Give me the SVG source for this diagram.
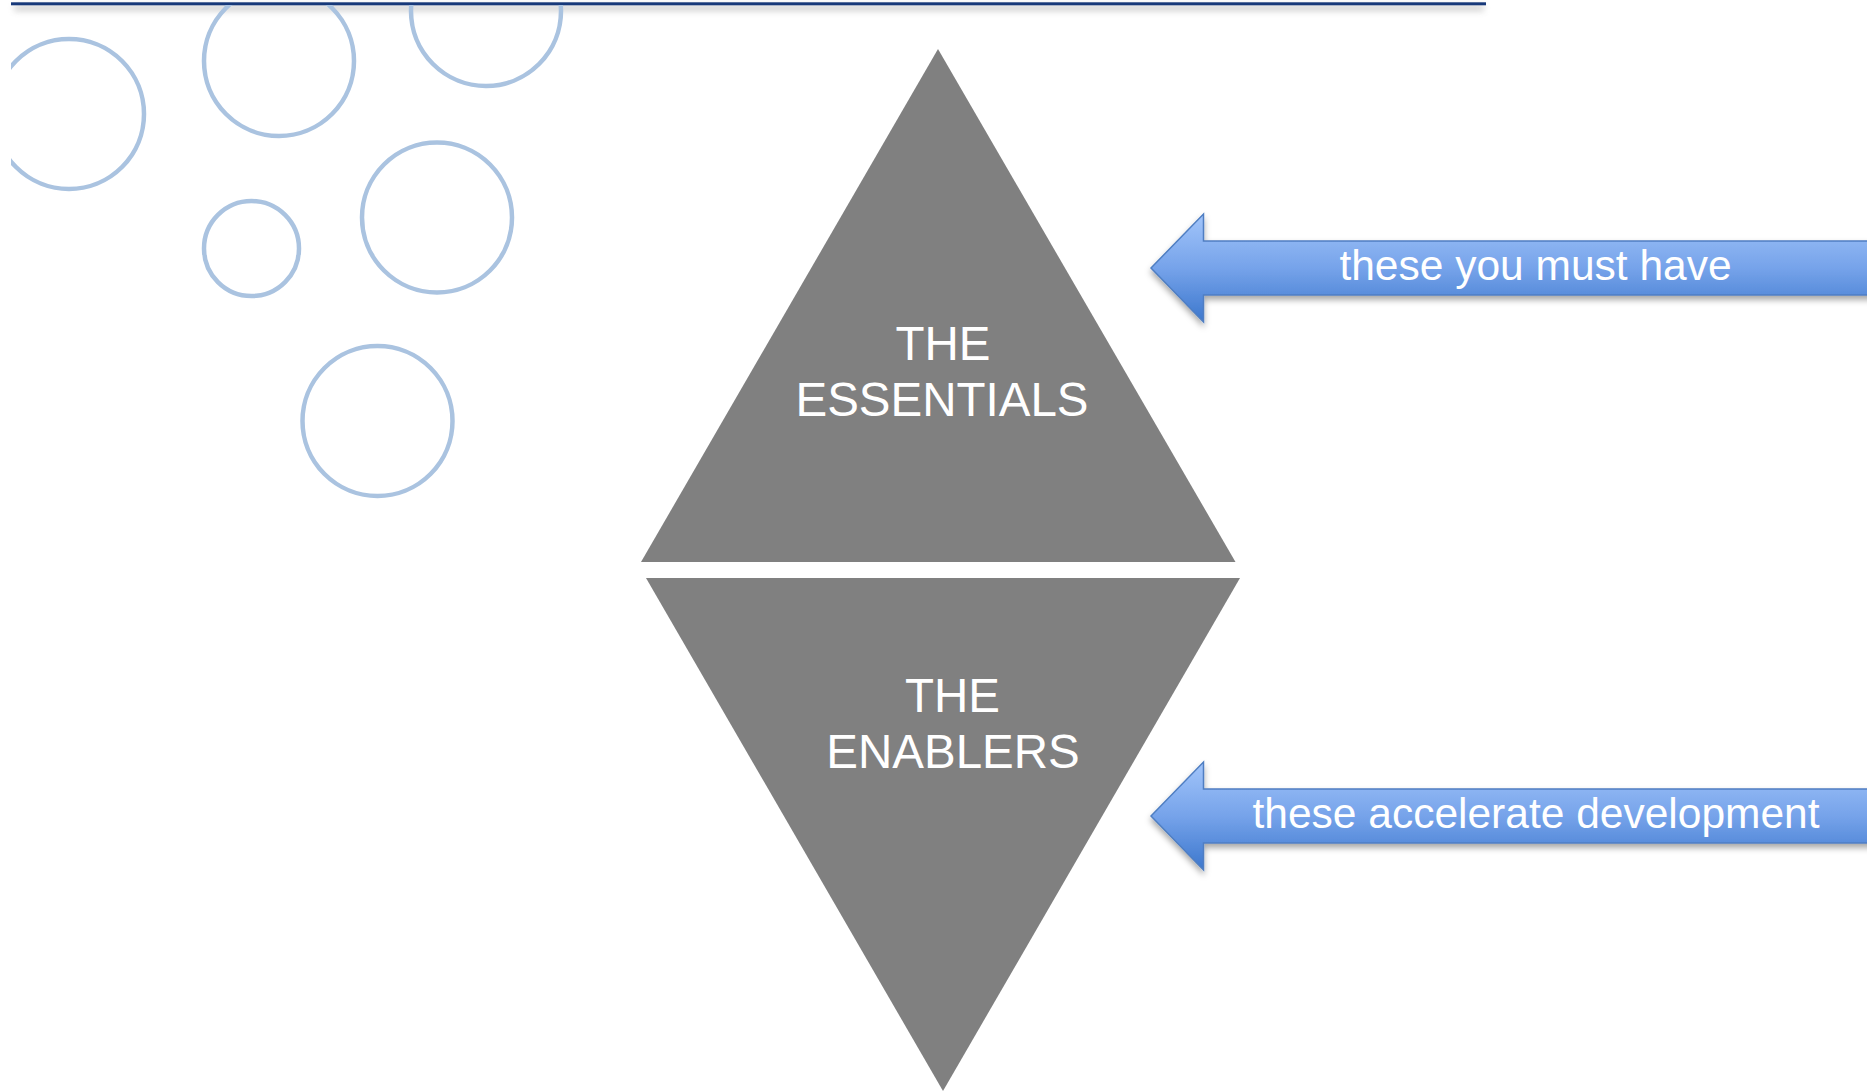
<svg xmlns="http://www.w3.org/2000/svg" width="1867" height="1091" viewBox="0 0 1867 1091">
  <style>
    .bubble { fill: none; stroke: #AAC3E0; stroke-width: 4.5; }
    .tri { fill: #808080; }
    .tri-label { font-family: "Liberation Sans", Arial, sans-serif; font-size: 47.5px; fill: #FFFFFF; text-anchor: middle; }
    .arrow-label { font-family: "Liberation Sans", Arial, sans-serif; font-size: 42.5px; fill: #FFFFFF; text-anchor: middle; }
    .arrow-body { fill: url(#arrowGrad); stroke: #4F7EC2; stroke-width: 1.5; stroke-linejoin: miter; }
  </style>
  <defs>
    <linearGradient id="arrowGrad" x1="0" y1="0" x2="0" y2="1">
      <stop offset="0" stop-color="#A2C5FA"/>
      <stop offset="0.5" stop-color="#76A3EA"/>
      <stop offset="1" stop-color="#3C77CD"/>
    </linearGradient>
    <filter id="arrowShadow" x="-10%" y="-30%" width="120%" height="170%">
      <feDropShadow dx="0" dy="4" stdDeviation="3" flood-color="#000000" flood-opacity="0.35"/>
    </filter>
    <filter id="lineShadow" x="-5%" y="-200%" width="110%" height="600%">
      <feGaussianBlur stdDeviation="3"/>
    </filter>
    <filter id="soft" x="-10%" y="-10%" width="120%" height="120%">
      <feGaussianBlur stdDeviation="0.7"/>
    </filter>
    <clipPath id="bubbleClip">
      <rect x="11" y="5" width="1500" height="600"/>
    </clipPath>
    <path id="blockArrow" d="M0,0 L52.5,-54 L52.5,-27 L780,-27 L780,27 L52.5,27 L52.5,54 Z"/>
  </defs>

  <rect x="0" y="0" width="1867" height="1091" fill="#FFFFFF"/>

  <!-- header rule -->
  <g id="header-rule">
    <rect x="14" y="5" width="1470" height="6" fill="#9A9A9A" opacity="0.45" filter="url(#lineShadow)"/>
    <rect x="11" y="2.3" width="1475" height="3" fill="#17397A"/>
  </g>

  <!-- decorative bubbles -->
  <g id="bubbles" clip-path="url(#bubbleClip)" filter="url(#soft)">
    <circle class="bubble" cx="69" cy="114" r="75"/>
    <circle class="bubble" cx="279" cy="61" r="75"/>
    <circle class="bubble" cx="486" cy="11" r="75"/>
    <circle class="bubble" cx="251.5" cy="248.5" r="47.5"/>
    <circle class="bubble" cx="437" cy="217.5" r="75"/>
    <circle class="bubble" cx="377.5" cy="421" r="75"/>
  </g>

  <g id="node-essentials">
    <polygon class="tri" points="938,49 1235.5,562 641,562"/>
    <text class="tri-label" x="943" y="360">THE</text>
    <text class="tri-label" x="942" y="416">ESSENTIALS</text>
  </g>

  <g id="node-enablers">
    <polygon class="tri" points="646,578 1240,578 943,1091"/>
    <text class="tri-label" x="952.5" y="711.5">THE</text>
    <text class="tri-label" x="953" y="768">ENABLERS</text>
  </g>

  <g id="connectors">
    <g id="arrow-must-have">
      <use href="#blockArrow" class="arrow-body" transform="translate(1151,268)" filter="url(#arrowShadow)"/>
      <text class="arrow-label" x="1535.5" y="280">these you must have</text>
    </g>
    <g id="arrow-accelerate">
      <use href="#blockArrow" class="arrow-body" transform="translate(1151,816)" filter="url(#arrowShadow)"/>
      <text class="arrow-label" x="1536" y="827.5">these accelerate development</text>
    </g>
  </g>
</svg>
